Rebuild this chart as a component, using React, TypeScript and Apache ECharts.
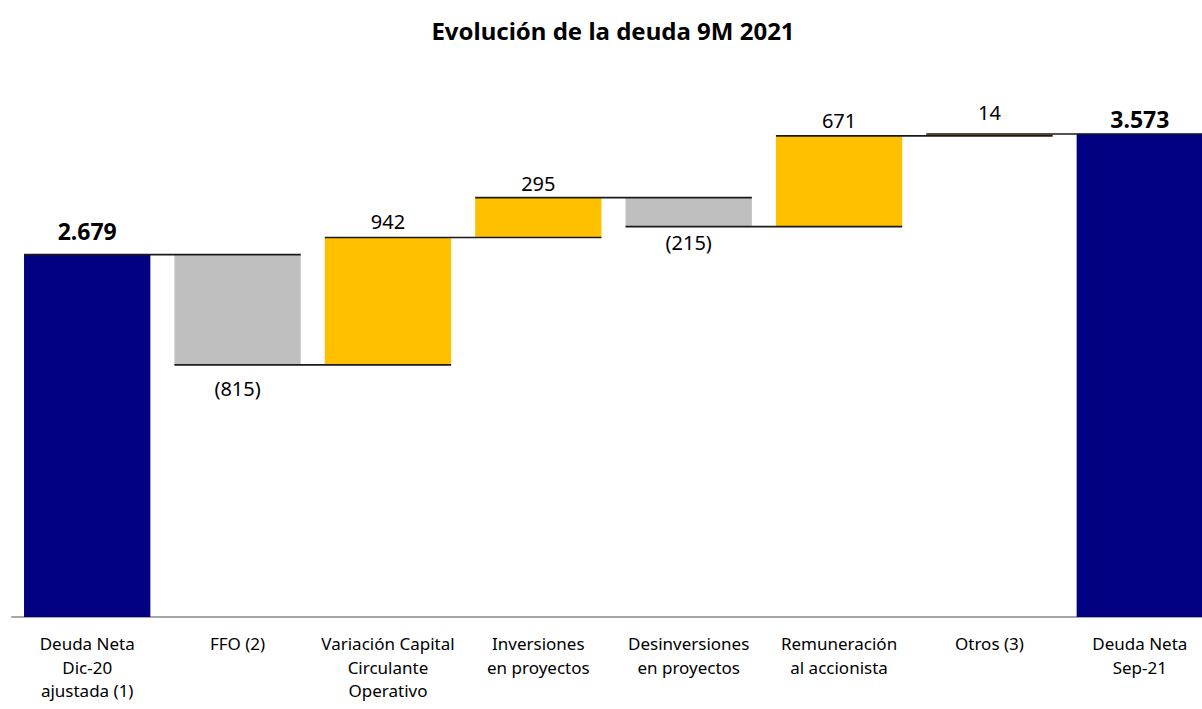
import React, { useEffect, useRef } from "react";
import * as echarts from "echarts";

const title = "Evolución de la deuda 9M 2021";
const categories = [
  "Deuda Neta\nDic-20\najustada (1)",
  "FFO (2)",
  "Variación Capital\nCirculante\nOperativo",
  "Inversiones\nen proyectos",
  "Desinversiones\nen proyectos",
  "Remuneración\nal accionista",
  "Otros (3)",
  "Deuda Neta\nSep-21",
];
const startValue = 2679;
const deltas = [-815, 942, 295, -215, 671, 14];
const endValue = 3573;
const valueLabels = ["2.679", "(815)", "942", "295", "(215)", "671", "14", "3.573"];

const NAVY = "#000080";
const GRAY = "#BFBFBF";
const GOLD = "#FFC000";
const FONT = "'Noto Sans', sans-serif";
const BAR_FRAC = 0.84;

export default function App() {
  const ref = useRef<HTMLDivElement>(null);
  useEffect(() => {
    document.body.style.margin = "0";
    document.body.style.overflow = "hidden";
    const chart = echarts.init(ref.current!, null, { renderer: "svg" });

    const levels: number[] = [startValue];
    deltas.forEach((d) => levels.push(levels[levels.length - 1] + d));

    const topDist = [12, 0, 6, 4, 0, 5, 12, 3];
    const botDist = [0, 14, 0, 0, 6, 0, 0, 0];

    const base: number[] = [];
    const vis: any[] = [];
    base.push(0);
    vis.push({
      value: startValue,
      itemStyle: { color: NAVY },
      label: { show: true, position: "top", distance: topDist[0], formatter: valueLabels[0], fontWeight: "bold", fontSize: 23 },
    });
    deltas.forEach((d, i) => {
      const prev = levels[i];
      const next = levels[i + 1];
      base.push(Math.min(prev, next));
      const neg = d < 0;
      vis.push({
        value: Math.abs(d),
        itemStyle: { color: neg ? GRAY : GOLD },
        label: {
          show: true,
          position: neg ? "bottom" : "top",
          distance: neg ? botDist[i + 1] : topDist[i + 1],
          formatter: valueLabels[i + 1],
        },
      });
    });
    base.push(0);
    vis.push({
      value: endValue,
      itemStyle: { color: NAVY },
      label: { show: true, position: "top", distance: topDist[7], formatter: valueLabels[7], fontWeight: "bold", fontSize: 23 },
    });

    const connectors = levels.map((lv, i) => [i, lv]);

    chart.setOption({
      animation: false,
      title: {
        text: title,
        left: 608,
        textAlign: "center",
        top: 13,
        textStyle: { fontFamily: FONT, fontSize: 24, fontWeight: "bold", color: "#000" },
      },
      grid: { left: 12, right: 0, top: 76, bottom: 92, containLabel: false },
      xAxis: {
        type: "category",
        data: categories,
        axisLine: { show: true, lineStyle: { color: "#A6A6A6", width: 2 } },
        axisTick: { show: false },
        axisLabel: {
          interval: 0,
          margin: 15,
          fontFamily: FONT,
          fontSize: 17,
          lineHeight: 23.5,
          color: "#000",
        },
      },
      yAxis: {
        type: "value",
        min: 0,
        max: 4000,
        show: false,
        splitLine: { show: false },
      },
      series: [
        {
          type: "bar",
          stack: "w",
          data: base,
          itemStyle: { color: "transparent" },
          barCategoryGap: "16%",
          silent: true,
        },
        {
          type: "bar",
          stack: "w",
          data: vis,
          barCategoryGap: "16%",
          label: { fontFamily: FONT, fontSize: 20, color: "#000" },
        },
        {
          type: "custom",
          data: connectors,
          renderItem: (params: any, api: any) => {
            const i = api.value(0);
            const lv = api.value(1);
            const p = api.coord([i, lv]);
            const band = api.size([1, 0])[0];
            const half = (band * BAR_FRAC) / 2;
            return {
              type: "line",
              shape: { x1: p[0] - half, y1: p[1], x2: p[0] + band + half, y2: p[1] },
              style: { stroke: "#1a1a1a", lineWidth: 1.6 },
            };
          },
          z: 5,
        },
      ],
    });
    return () => chart.dispose();
  }, []);
  return <div ref={ref} style={{ width: 1215, height: 709 }} />;
}
